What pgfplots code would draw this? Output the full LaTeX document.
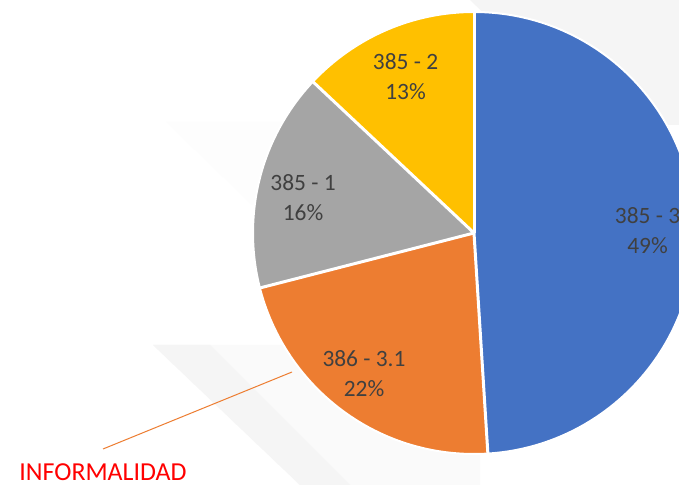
\documentclass[border=0pt]{standalone}
\usepackage{fontspec}
\setmainfont{Carlito}
\usepackage{pgfplots}
\usepackage{pgfplotstable}
\pgfplotsset{compat=1.18}
\definecolor{cBlue}{HTML}{4472C4}
\definecolor{cOrange}{HTML}{ED7D31}
\definecolor{cGray}{HTML}{A5A5A5}
\definecolor{cYellow}{HTML}{FFC000}
\definecolor{cLabel}{HTML}{404040}
\definecolor{bgA}{HTML}{F5F5F5}
\definecolor{bgB}{HTML}{FAFAFA}
\definecolor{bgC}{HTML}{FDFDFD}

% slice name, percent, colour, label position (x, y in the 679 x 485 frame)
\pgfplotstableread[col sep=comma]{
name,pct,col,lx,ly
385 - 3,49,cBlue,647.5,254
386 - 3.1,22,cOrange,364,111
385 - 1,16,cGray,303,287.5
385 - 2,13,cYellow,405.5,408.5
}\piedata

\begin{document}
\begin{tikzpicture}
\begin{axis}[
  width=679bp, height=485bp, scale only axis,
  xmin=0, xmax=679, ymin=0, ymax=485,
  hide axis, clip=true,
]
\coordinate (bl) at (axis cs:0,0);
\coordinate (tr) at (axis cs:679,485);
\fill[white] (axis cs:0,0) rectangle (axis cs:679,485);
% faint background shapes
\fill[bgA] (axis cs:470,485) -- (axis cs:679,485) -- (axis cs:679,360) -- (axis cs:600,360) -- cycle;
\fill[bgB] (axis cs:153,140) -- (axis cs:480,140) -- (axis cs:480,0) -- (axis cs:300,0) -- cycle;
\fill[bgA] (axis cs:153,140) -- (axis cs:210,140) -- (axis cs:350,0) -- (axis cs:300,0) -- cycle;
\fill[bgC] (axis cs:166,363) -- (axis cs:300,363) -- (axis cs:300,280) -- (axis cs:252,280) -- cycle;
\pgfplotsextra{
  \xdef\curang{90}
  \foreach \i in {0,...,3}{
    \pgfplotstablegetelem{\i}{pct}\of\piedata \let\p=\pgfplotsretval
    \pgfplotstablegetelem{\i}{col}\of\piedata \let\c=\pgfplotsretval
    \pgfmathsetmacro\endang{\curang-3.6*\p}
    \fill[fill=\c] (axis cs:474,252) -- ++(\curang:221bp)
       arc[start angle=\curang, end angle=\endang, radius=221bp] -- cycle;
    \xdef\curang{\endang}
  }
  \xdef\curang{90}
  \foreach \i in {0,...,3}{
    \pgfplotstablegetelem{\i}{pct}\of\piedata \let\p=\pgfplotsretval
    \pgfmathsetmacro\endang{\curang-3.6*\p}
    \draw[white, line width=3bp] (axis cs:474,252) -- ++(\curang:221bp);
    \xdef\curang{\endang}
  }
  \draw[white, line width=2bp] (axis cs:474,252) circle[radius=221bp];
  \foreach \i in {0,...,3}{
    \pgfplotstablegetelem{\i}{pct}\of\piedata \let\p=\pgfplotsretval
    \pgfplotstablegetelem{\i}{name}\of\piedata \let\n=\pgfplotsretval
    \pgfplotstablegetelem{\i}{lx}\of\piedata \let\lx=\pgfplotsretval
    \pgfplotstablegetelem{\i}{ly}\of\piedata \let\ly=\pgfplotsretval
    \node[align=center, text=cLabel, font=\fontsize{23.5}{30}\selectfont, inner sep=0pt]
      at (axis cs:\lx,\ly) {\n\\\p\%};
  }
}
\draw[cOrange, line width=1bp] (axis cs:103,36) -- (axis cs:292,113);
\node[text={rgb,255:red,255;green,0;blue,0}, font=\fontsize{26}{30}\selectfont, inner sep=0pt]
  at (axis cs:103,13) {INFORMALIDAD};
\end{axis}
\pgfresetboundingbox
\useasboundingbox (bl) rectangle (tr);
\end{tikzpicture}
\end{document}
